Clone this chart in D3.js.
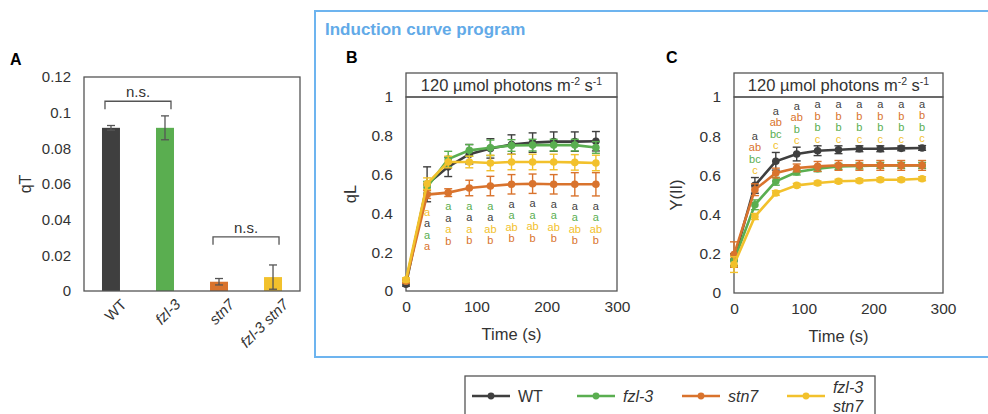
<!DOCTYPE html>
<html>
<head>
<meta charset="utf-8">
<script src="https://cdn.jsdelivr.net/npm/d3@7"></script>
<style>
  body { margin: 0; background: #fff; }
  text { font-family: "Liberation Sans", Arial, sans-serif; }
</style>
</head>
<body>
<div id="chart"></div>
<script>
// genotypes and colours
var genotypes = ["WT", "fzl-3", "stn7", "fzl-3 stn7"];
var colors = ["#3f3f3f", "#5aae50", "#d9732d", "#f2c12c"];

// panel A: qT
var qTMean = [0.0915, 0.0915, 0.0052, 0.0078];
var qTErr = [0.0013, 0.0067, 0.0018, 0.0068];

// panels B and C: time points
var times = [0, 30, 60, 90, 120, 150, 180, 210, 240, 270];

// qL means / sd (order WT, fzl-3, stn7, fzl-3 stn7)
var qLWT = [0.035, 0.55, 0.64, 0.705, 0.735, 0.755, 0.765, 0.77, 0.77, 0.772];
var qLFzl = [0.05, 0.535, 0.68, 0.725, 0.738, 0.75, 0.752, 0.752, 0.752, 0.74];
var qLStn = [0.05, 0.497, 0.507, 0.531, 0.541, 0.55, 0.553, 0.55, 0.55, 0.55];
var qLDbl = [0.058, 0.553, 0.665, 0.665, 0.66, 0.665, 0.665, 0.665, 0.663, 0.66];
var qLWTErr = [0.01, 0.09, 0.05, 0.05, 0.05, 0.05, 0.05, 0.05, 0.05, 0.05];
var qLFzlErr = [0.01, 0.03, 0.04, 0.03, 0.04, 0.03, 0.03, 0.03, 0.03, 0.03];
var qLStnErr = [0.01, 0.02, 0.02, 0.04, 0.05, 0.05, 0.05, 0.05, 0.06, 0.06];
var qLDblErr = [0.01, 0.03, 0.03, 0.03, 0.04, 0.04, 0.04, 0.04, 0.04, 0.04];

// Y(II) means / sd
var yWT = [0.17, 0.549, 0.672, 0.709, 0.726, 0.731, 0.736, 0.736, 0.738, 0.74];
var yFzl = [0.165, 0.45, 0.57, 0.617, 0.634, 0.646, 0.648, 0.651, 0.651, 0.651];
var yStn = [0.196, 0.527, 0.612, 0.638, 0.646, 0.651, 0.651, 0.651, 0.651, 0.651];
var yDbl = [0.145, 0.39, 0.51, 0.549, 0.561, 0.57, 0.573, 0.578, 0.578, 0.583];
var yWTErr = [0.03, 0.04, 0.045, 0.035, 0.025, 0.02, 0.015, 0.015, 0.012, 0.012];
var yFzlErr = [0.03, 0.025, 0.02, 0.015, 0.015, 0.015, 0.015, 0.015, 0.015, 0.015];
var yStnErr = [0.065, 0.03, 0.025, 0.02, 0.025, 0.025, 0.025, 0.025, 0.025, 0.025];
var yDblErr = [0.04, 0.015, 0.012, 0.01, 0.01, 0.01, 0.01, 0.01, 0.01, 0.01];

// significance letters: per time point, stack top->bottom as [letter, genotype index]
var qLLetters = [
  null,
  [["a", 3], ["a", 0], ["a", 1], ["a", 2]],
  [["a", 1], ["a", 0], ["a", 3], ["b", 2]],
  [["a", 1], ["a", 0], ["a", 3], ["b", 2]],
  [["a", 1], ["a", 0], ["ab", 3], ["b", 2]],
  [["a", 0], ["a", 1], ["ab", 3], ["b", 2]],
  [["a", 0], ["a", 1], ["ab", 3], ["b", 2]],
  [["a", 0], ["a", 1], ["ab", 3], ["b", 2]],
  [["a", 0], ["a", 1], ["ab", 3], ["b", 2]],
  [["a", 0], ["a", 1], ["ab", 3], ["b", 2]]
];
var yLetters = [
  null,
  [["a", 0], ["ab", 2], ["bc", 1], ["c", 3]],
  [["a", 0], ["ab", 2], ["bc", 1], ["c", 3]],
  [["a", 0], ["ab", 2], ["b", 1], ["c", 3]],
  [["a", 0], ["b", 2], ["b", 1], ["c", 3]],
  [["a", 0], ["b", 2], ["b", 1], ["c", 3]],
  [["a", 0], ["b", 2], ["b", 1], ["c", 3]],
  [["a", 0], ["b", 2], ["b", 1], ["c", 3]],
  [["a", 0], ["b", 2], ["b", 1], ["c", 3]],
  [["a", 0], ["b", 2], ["b", 1], ["c", 3]]
];

var svg = d3.select("#chart").append("svg")
  .attr("width", 988)
  .attr("height", 414);

var axisColor = "#555";
var textColor = "#333";
var fontFam = "Liberation Sans, Arial, sans-serif";

// ---------- Panel A ----------
var aLeft = 84, aRight = 300, aTop = 77, aBottom = 291;

var xA = d3.scaleBand()
  .domain(genotypes)
  .range([aLeft, aRight])
  .paddingInner(0.667)
  .paddingOuter(0.333);

var yA = d3.scaleLinear().domain([0, 0.12]).range([aBottom, aTop]);

svg.append("text").attr("x", 10).attr("y", 65)
  .style("font-weight", "bold").style("font-size", "16px").text("A");

var yAxisA = svg.append("g")
  .attr("transform", `translate(${aLeft},0)`)
  .call(d3.axisLeft(yA).tickValues([0, 0.02, 0.04, 0.06, 0.08, 0.1, 0.12])
    .tickFormat(d3.format("")).tickSize(0).tickPadding(13));
yAxisA.select(".domain").remove();
yAxisA.selectAll("text").style("font-size", "15px").style("fill", textColor)
  .style("font-family", fontFam);

svg.selectAll(".barA")
  .data(genotypes)
  .enter()
  .append("rect")
  .attr("x", d => xA(d))
  .attr("width", xA.bandwidth())
  .attr("y", (d, i) => yA(qTMean[i]))
  .attr("height", (d, i) => aBottom - yA(qTMean[i]))
  .attr("fill", (d, i) => colors[i]);

// error bars A
var errA = svg.selectAll(".errA").data(genotypes).enter().append("g");
errA.append("line")
  .attr("x1", d => xA(d) + xA.bandwidth() / 2).attr("x2", d => xA(d) + xA.bandwidth() / 2)
  .attr("y1", (d, i) => yA(qTMean[i] - qTErr[i])).attr("y2", (d, i) => yA(qTMean[i] + qTErr[i]))
  .attr("stroke", "#555").attr("stroke-width", 1.3);
[-1, 1].forEach(function(s) {
  errA.append("line")
    .attr("x1", d => xA(d) + xA.bandwidth() / 2 - 4).attr("x2", d => xA(d) + xA.bandwidth() / 2 + 4)
    .attr("y1", (d, i) => yA(qTMean[i] + s * qTErr[i])).attr("y2", (d, i) => yA(qTMean[i] + s * qTErr[i]))
    .attr("stroke", "#555").attr("stroke-width", 1.3);
});

// frame A
svg.append("rect").attr("x", aLeft).attr("y", aTop)
  .attr("width", aRight - aLeft).attr("height", aBottom - aTop)
  .attr("fill", "none").attr("stroke", axisColor).attr("stroke-width", 1.3);

// x labels A
svg.selectAll(".xlabA")
  .data(genotypes)
  .enter()
  .append("text")
  .attr("transform", d => `translate(${xA(d) + xA.bandwidth() / 2 + 9},${aBottom + 7}) rotate(-45)`)
  .attr("text-anchor", "end")
  .attr("dy", "0.7em")
  .style("font-size", "15px")
  .style("fill", textColor)
  .style("font-style", d => d === "WT" ? "normal" : "italic")
  .text(d => d);

svg.append("text")
  .attr("transform", `translate(31,${(aTop + aBottom) / 2}) rotate(-90)`)
  .attr("text-anchor", "middle")
  .style("font-size", "16px").style("fill", textColor).text("qT");

// n.s. brackets
function bracket(g1, g2, yVal, drop) {
  var x1 = xA(g1) + xA.bandwidth() / 2 - 6, x2 = xA(g2) + xA.bandwidth() / 2 + 6;
  var y = yA(yVal);
  svg.append("path")
    .attr("d", `M${x1},${y + drop}V${y}H${x2}V${y + drop}`)
    .attr("fill", "none").attr("stroke", "#555").attr("stroke-width", 1.3);
  svg.append("text").attr("x", (x1 + x2) / 2).attr("y", y - 4)
    .attr("text-anchor", "middle").style("font-size", "15px").style("fill", textColor)
    .text("n.s.");
}
bracket("WT", "fzl-3", 0.1064, 8);
bracket("stn7", "fzl-3 stn7", 0.0304, 8);

// ---------- blue frame ----------
svg.append("path")
  .attr("d", "M990,11H315V357H990")
  .attr("fill", "none").attr("stroke", "#6db4ef").attr("stroke-width", 2);
svg.append("text").attr("x", 325).attr("y", 35)
  .style("font-weight", "bold").style("font-size", "17px").style("fill", "#62aae8")
  .text("Induction curve program");

// ---------- line panels ----------
function linePanel(opt) {
  var x = d3.scaleLinear().domain([0, 300]).range([opt.left, opt.right]);
  var y = d3.scaleLinear().domain([0, 1]).range([opt.bottom, opt.top]);

  svg.append("text").attr("x", opt.labelX).attr("y", 63)
    .style("font-weight", "bold").style("font-size", "16px").text(opt.label);

  // header box
  svg.append("rect").attr("x", opt.left).attr("y", opt.top - 24)
    .attr("width", opt.right - opt.left).attr("height", 24)
    .attr("fill", "#fff").attr("stroke", axisColor).attr("stroke-width", 1.3);
  var head = svg.append("text").attr("x", (opt.left + opt.right) / 2).attr("y", opt.top - 6)
    .attr("text-anchor", "middle").style("font-size", "16.5px").style("fill", textColor);
  head.append("tspan").text("120 \u00b5mol photons m");
  head.append("tspan").attr("dy", -6).style("font-size", "10.5px").text("-2");
  head.append("tspan").attr("dy", 6).text(" s");
  head.append("tspan").attr("dy", -6).style("font-size", "10.5px").text("-1");

  var yAxis = svg.append("g").attr("transform", `translate(${opt.left},0)`)
    .call(d3.axisLeft(y).tickValues([0, 0.2, 0.4, 0.6, 0.8, 1])
      .tickFormat(d3.format("")).tickSize(0).tickPadding(13));
  yAxis.select(".domain").remove();
  yAxis.selectAll("text").style("font-size", "15.5px").style("fill", textColor)
    .style("font-family", fontFam);

  var xAxis = svg.append("g").attr("transform", `translate(0,${opt.bottom})`)
    .call(d3.axisBottom(x).tickValues([0, 100, 200, 300]).tickSize(0).tickPadding(10));
  xAxis.select(".domain").remove();
  xAxis.selectAll("text").style("font-size", "15.5px").style("fill", textColor)
    .style("font-family", fontFam);

  svg.append("text").attr("x", (opt.left + opt.right) / 2).attr("y", opt.bottom + 49)
    .attr("text-anchor", "middle").style("font-size", "16.5px").style("fill", textColor)
    .text("Time (s)");
  svg.append("text")
    .attr("transform", `translate(${opt.left - opt.titleOff},${(opt.top + opt.bottom) / 2}) rotate(-90)`)
    .attr("text-anchor", "middle").style("font-size", "16.5px").style("fill", textColor)
    .text(opt.yTitle);

  // frame
  svg.append("rect").attr("x", opt.left).attr("y", opt.top)
    .attr("width", opt.right - opt.left).attr("height", opt.bottom - opt.top)
    .attr("fill", "none").attr("stroke", axisColor).attr("stroke-width", 1.3);

  var line = d3.line().x((d, i) => x(times[i])).y(d => y(d));

  opt.series.forEach(function(vals, k) {
    var errs = opt.errors[k];
    var c = colors[k];
    var g = svg.append("g");
    g.selectAll("line.err").data(vals).enter().append("line")
      .attr("x1", (d, i) => x(times[i])).attr("x2", (d, i) => x(times[i]))
      .attr("y1", (d, i) => y(d - errs[i])).attr("y2", (d, i) => y(d + errs[i]))
      .attr("stroke", c).attr("stroke-width", 1.4);
    [-1, 1].forEach(function(s) {
      g.selectAll(null).data(vals).enter().append("line")
        .attr("x1", (d, i) => x(times[i]) - 4).attr("x2", (d, i) => x(times[i]) + 4)
        .attr("y1", (d, i) => y(d + s * errs[i])).attr("y2", (d, i) => y(d + s * errs[i]))
        .attr("stroke", c).attr("stroke-width", 1.4);
    });
    g.append("path").datum(vals).attr("d", line)
      .attr("fill", "none").attr("stroke", c).attr("stroke-width", 2.6);
    g.selectAll("circle").data(vals).enter().append("circle")
      .attr("cx", (d, i) => x(times[i])).attr("cy", d => y(d)).attr("r", 3.8)
      .attr("fill", c);
  });

  // letters
  opt.letters.forEach(function(stack, i) {
    if (!stack) return;
    var lo = d3.min(opt.series, (s, k) => s[i] - opt.errors[k][i]);
    var hi = d3.max(opt.series, (s, k) => s[i] + opt.errors[k][i]);
    stack.forEach(function(item, j) {
      var cy = opt.below ? y(lo) + 10 + j * 11.5 : y(hi) - 7 - (stack.length - 1 - j) * 11.5;
      svg.append("text").attr("x", x(times[i])).attr("y", cy)
        .attr("dy", "0.35em").attr("text-anchor", "middle")
        .style("font-size", "11px").style("fill", colors[item[1]])
        .text(item[0]);
    });
  });
}

linePanel({
  left: 406, right: 617, top: 97, bottom: 291, label: "B", labelX: 346, yTitle: "qL", titleOff: 50,
  series: [qLWT, qLFzl, qLStn, qLDbl],
  errors: [qLWTErr, qLFzlErr, qLStnErr, qLDblErr],
  letters: qLLetters, below: true
});

linePanel({
  left: 734, right: 943, top: 97, bottom: 293, label: "C", labelX: 666, yTitle: "Y(II)", titleOff: 52,
  series: [yWT, yFzl, yStn, yDbl],
  errors: [yWTErr, yFzlErr, yStnErr, yDblErr],
  letters: yLetters, below: false
});

// ---------- legend ----------
svg.append("rect").attr("x", 465).attr("y", 376).attr("width", 410).attr("height", 60)
  .attr("fill", "none").attr("stroke", axisColor).attr("stroke-width", 1.3);
var legX = [472, 577, 682, 787];
genotypes.forEach(function(g, i) {
  var lg = svg.append("g").attr("transform", `translate(${legX[i]},396)`);
  lg.append("line").attr("x1", 0).attr("x2", 38).attr("stroke", colors[i]).attr("stroke-width", 2.6);
  lg.append("circle").attr("cx", 19).attr("r", 3.4).attr("fill", colors[i]);
  var t = lg.append("text").attr("x", 46).attr("dy", "0.35em")
    .style("font-size", "16px").style("fill", textColor)
    .style("font-style", g === "WT" ? "normal" : "italic");
  if (g === "fzl-3 stn7") {
    t.attr("dy", null).attr("text-anchor", "middle").attr("x", 61);
    t.append("tspan").attr("x", 61).attr("y", -3).text("fzl-3");
    t.append("tspan").attr("x", 61).attr("y", 16).text("stn7");
  } else {
    t.text(g);
  }
});
</script>
</body>
</html>
